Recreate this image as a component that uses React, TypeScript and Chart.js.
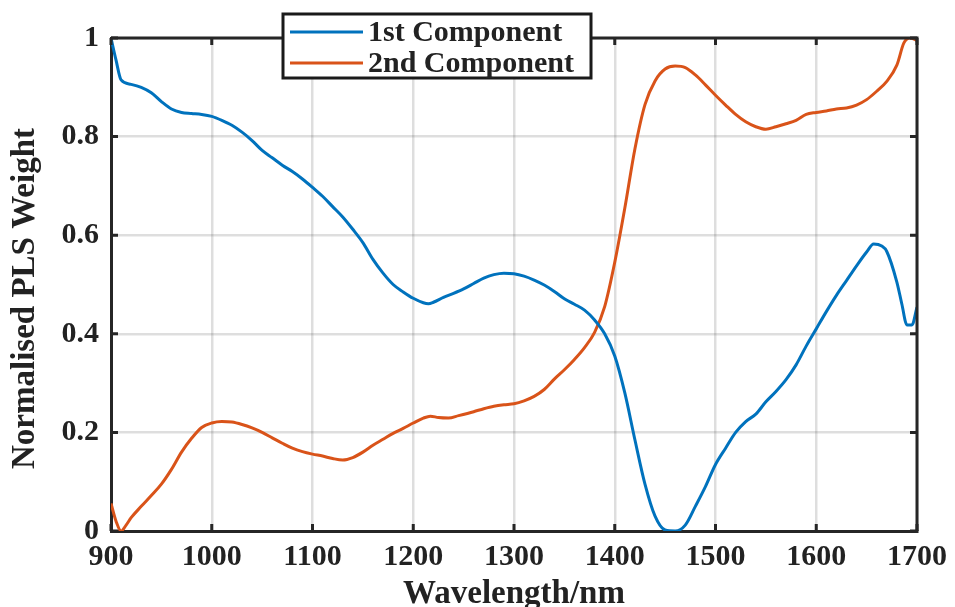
import React, { useEffect, useRef } from 'react';
import { Chart, registerables } from 'chart.js';

Chart.register(...registerables);

// ---- data ----
const seriesNames = ['1st Component', '2nd Component'];
const seriesColors = ['#0072BD', '#D95319'];

const wavelengths1 = [
  900, 905, 910, 920, 930, 940, 950, 960, 970, 980, 990, 1000, 1010, 1020, 1030, 1040, 1050, 1060,
  1070, 1080, 1090, 1100, 1110, 1120, 1130, 1140, 1150, 1160, 1170, 1180, 1190, 1200, 1210, 1215,
  1220, 1230, 1240, 1250, 1260, 1270, 1280, 1290, 1300, 1310, 1320, 1330, 1340, 1350, 1360, 1370,
  1380, 1390, 1400, 1410, 1420, 1430, 1440, 1450, 1460, 1470, 1480, 1490, 1500, 1510, 1520, 1530,
  1540, 1550, 1560, 1570, 1580, 1590, 1600, 1610, 1620, 1630, 1640, 1650, 1657, 1665, 1670, 1680,
  1685, 1690, 1695, 1700,
];
const weights1 = [
  1.0, 0.955, 0.915, 0.906, 0.9, 0.889, 0.871, 0.856, 0.849, 0.847, 0.845, 0.841, 0.833, 0.823, 0.809,
  0.792, 0.772, 0.757, 0.742, 0.729, 0.714, 0.697, 0.679, 0.658, 0.637, 0.612, 0.585, 0.551, 0.523,
  0.5, 0.485, 0.472, 0.463, 0.461, 0.464, 0.474, 0.482, 0.491, 0.502, 0.513, 0.52, 0.523, 0.522,
  0.517, 0.509, 0.499, 0.486, 0.471, 0.46, 0.448, 0.428, 0.4, 0.355, 0.28, 0.185, 0.095, 0.03,
  0.002, 0.0, 0.012, 0.05, 0.09, 0.135, 0.168, 0.2, 0.222, 0.237, 0.262, 0.283, 0.307, 0.337, 0.375,
  0.41, 0.445, 0.478, 0.508, 0.538, 0.566, 0.582, 0.578, 0.567, 0.505, 0.46, 0.418, 0.418, 0.454,
];

const wavelengths2 = [
  900, 905, 910, 915, 920, 930, 940, 950, 960, 970, 980, 990, 1000, 1010, 1020, 1030, 1040, 1050,
  1060, 1070, 1080, 1090, 1100, 1110, 1120, 1130, 1140, 1150, 1160, 1170, 1180, 1190, 1200, 1210,
  1217, 1225, 1235, 1245, 1260, 1270, 1280, 1290, 1300, 1310, 1320, 1330, 1340, 1350, 1360, 1370,
  1380, 1390, 1400, 1410, 1420, 1430, 1440, 1450, 1460, 1470, 1480, 1490, 1500, 1510, 1520, 1530,
  1540, 1550, 1560, 1570, 1580, 1590, 1600, 1610, 1620, 1630, 1640, 1650, 1660, 1670, 1680, 1687,
  1693, 1700,
];
const weights2 = [
  0.056, 0.02, 0.0, 0.012, 0.027, 0.05, 0.072, 0.095, 0.125, 0.16, 0.188, 0.21, 0.219, 0.222, 0.221,
  0.216, 0.209, 0.2, 0.189, 0.178, 0.168, 0.161, 0.156, 0.152, 0.147, 0.144, 0.149, 0.16, 0.174,
  0.186, 0.198, 0.208, 0.219, 0.229, 0.233, 0.23, 0.229, 0.234, 0.242, 0.248, 0.253, 0.256, 0.258,
  0.264, 0.273, 0.287, 0.308, 0.327, 0.348, 0.372, 0.403, 0.455, 0.545, 0.655, 0.775, 0.865, 0.913,
  0.937, 0.943, 0.94, 0.925, 0.905, 0.884, 0.864, 0.845, 0.83, 0.82, 0.815, 0.82, 0.826, 0.833,
  0.845, 0.849, 0.852, 0.856, 0.858, 0.864, 0.875, 0.892, 0.912, 0.945, 0.99, 1.0, 0.995,
];

const xTicks = [900, 1000, 1100, 1200, 1300, 1400, 1500, 1600, 1700];
const yTicks = [0, 0.2, 0.4, 0.6, 0.8, 1];
const yTickLabels = ['0', '0.2', '0.4', '0.6', '0.8', '1'];

const xTitle = 'Wavelength/nm';
const yTitle = 'Normalised PLS Weight';

const FONT = '"Liberation Serif", "Times New Roman", serif';
const INK = '#222222';

const decorPlugin = {
  id: 'matlabDecor',
  afterDraw(chart: any) {
    const { ctx, chartArea: a, scales } = chart;
    ctx.save();
    // top & right box lines
    ctx.strokeStyle = '#262626';
    ctx.lineWidth = 3;
    ctx.beginPath();
    ctx.moveTo(a.left, a.top);
    ctx.lineTo(a.right, a.top);
    ctx.lineTo(a.right, a.bottom);
    ctx.stroke();
    // inward tick marks
    const L = 7;
    ctx.beginPath();
    scales.x.ticks.forEach((t: any) => {
      const px = scales.x.getPixelForValue(t.value);
      ctx.moveTo(px, a.bottom);
      ctx.lineTo(px, a.bottom - L);
      ctx.moveTo(px, a.top);
      ctx.lineTo(px, a.top + L);
    });
    scales.y.ticks.forEach((t: any) => {
      const py = scales.y.getPixelForValue(t.value);
      ctx.moveTo(a.left, py);
      ctx.lineTo(a.left + L, py);
      ctx.moveTo(a.right, py);
      ctx.lineTo(a.right - L, py);
    });
    ctx.stroke();

    // y-axis title (placed slightly below centre as in the reference)
    ctx.save();
    ctx.translate(25, (a.top + a.bottom) / 2 + 14);
    ctx.rotate(-Math.PI / 2);
    ctx.fillStyle = INK;
    ctx.font = `bold 33px ${FONT}`;
    ctx.textAlign = 'center';
    ctx.textBaseline = 'middle';
    ctx.fillText(yTitle, 0, 0);
    ctx.restore();

    // legend
    const bx = 283, by = 14, bw = 308, bh = 64;
    ctx.fillStyle = '#ffffff';
    ctx.fillRect(bx, by, bw, bh);
    ctx.strokeStyle = '#1a1a1a';
    ctx.lineWidth = 3;
    ctx.strokeRect(bx, by, bw, bh);
    const rows = [32, 63];
    chart.data.datasets.forEach((ds: any, i: number) => {
      const y = rows[i];
      ctx.strokeStyle = ds.borderColor;
      ctx.lineWidth = 3;
      ctx.beginPath();
      ctx.moveTo(290, y);
      ctx.lineTo(363, y);
      ctx.stroke();
      ctx.fillStyle = INK;
      ctx.font = `bold 30px ${FONT}`;
      ctx.textBaseline = 'middle';
      ctx.textAlign = 'left';
      ctx.fillText(ds.label, 368, y + 1);
    });
    ctx.restore();
  },
};

export default function App() {
  const ref = useRef<HTMLCanvasElement | null>(null);

  useEffect(() => {
    if (!ref.current) return;
    const chart = new Chart(ref.current, {
      type: 'line',
      data: {
        datasets: [
          {
            label: seriesNames[0],
            data: wavelengths1.map((x, i) => ({ x, y: weights1[i] })),
            borderColor: seriesColors[0],
            backgroundColor: seriesColors[0],
            borderWidth: 3,
            pointRadius: 0,
            cubicInterpolationMode: 'monotone',
          },
          {
            label: seriesNames[1],
            data: wavelengths2.map((x, i) => ({ x, y: weights2[i] })),
            borderColor: seriesColors[1],
            backgroundColor: seriesColors[1],
            borderWidth: 3,
            pointRadius: 0,
            cubicInterpolationMode: 'monotone',
          },
        ],
      },
      options: {
        responsive: false,
        animation: false,
        layout: { padding: { left: 0, top: 38, right: 38, bottom: 0 } },
        plugins: { legend: { display: false }, tooltip: { enabled: false } },
        scales: {
          x: {
            type: 'linear',
            min: 900,
            max: 1700,
            afterBuildTicks: (s: any) => {
              s.ticks = xTicks.map((v) => ({ value: v }));
            },
            afterFit: (s: any) => {
              s.height = 76;
            },
            ticks: {
              autoSkip: false,
              maxRotation: 0,
              padding: 8,
              color: INK,
              font: { family: FONT, size: 30, weight: 'bold' },
              callback: (v: any) => String(v),
            },
            grid: { color: 'rgba(0,0,0,0.13)', lineWidth: 2.5, drawTicks: false },
            border: { display: true, color: '#262626', width: 3 },
            title: {
              display: true,
              text: xTitle,
              color: INK,
              font: { family: FONT, size: 33, weight: 'bold', lineHeight: 1 },
              padding: { top: 0, bottom: -4 },
            },
          },
          y: {
            type: 'linear',
            min: 0,
            max: 1,
            afterBuildTicks: (s: any) => {
              s.ticks = yTicks.map((v) => ({ value: v }));
            },
            afterFit: (s: any) => {
              s.width = 111;
            },
            ticks: {
              padding: 12,
              color: INK,
              font: { family: FONT, size: 30, weight: 'bold' },
              callback: (_v: any, i: number) => yTickLabels[i],
            },
            grid: { color: 'rgba(0,0,0,0.13)', lineWidth: 2.5, drawTicks: false },
            border: { display: true, color: '#262626', width: 3 },
            title: { display: false, text: yTitle },
          },
        },
      },
      plugins: [decorPlugin],
    } as any);
    return () => chart.destroy();
  }, []);

  return (
    <div style={{ position: 'fixed', left: 0, top: 0, width: 955, height: 607, background: '#fff' }}>
      <canvas ref={ref} width={955} height={607} style={{ display: 'block' }} />
    </div>
  );
}
